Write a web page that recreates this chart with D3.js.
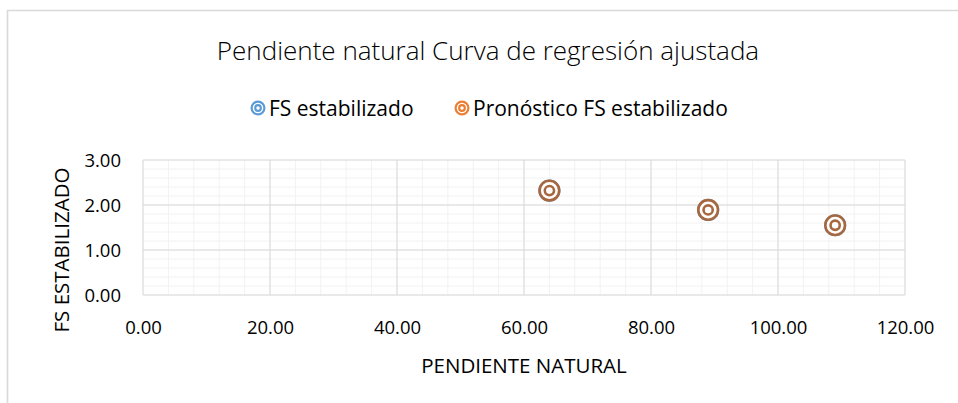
<!DOCTYPE html>
<html>
<head>
<meta charset="utf-8">
<script src="https://cdn.jsdelivr.net/npm/d3@7"></script>
<style>
  html, body { margin: 0; padding: 0; background: #fff; }
  svg text { font-family: "Open Sans", Lato, "Liberation Sans", sans-serif; fill: #000; }
</style>
</head>
<body>
<svg id="chart" width="958" height="403"></svg>
<script>
// Slope (x) and stabilized safety factor (y)
const pendiente = [64.0, 89.0, 109.0];
const fsEstabilizado = [2.32, 1.89, 1.55];
const fsPronostico = [2.32, 1.89, 1.55];
const xTicks = [0, 20, 40, 60, 80, 100, 120];
const yTicks = [0, 1, 2, 3];
const seriesNames = ["FS estabilizado", "Pronóstico FS estabilizado"];
const seriesColors = ["#5B9BD5", "#ED7D31"];
const markerColor = "#A8683F";

const svg = d3.select("#chart");
const margin = { left: 143, right: 53, top: 160, bottom: 108 };
const W = 958, H = 403;
const FONT = "'Open Sans', Lato, sans-serif";

// chart frame
svg.append("path")
  .attr("d", `M7.5,403 V10.5 H958`)
  .attr("fill", "none").attr("stroke", "#d9d9d9").attr("stroke-width", 1.6);

const x = d3.scaleLinear().domain([0, 120]).range([margin.left, W - margin.right]);
const y = d3.scaleLinear().domain([0, 3]).range([H - margin.bottom, margin.top]);

const g = svg.append("g");

// minor gridlines
const xMinor = d3.range(0, 120.001, 4);
const yMinor = d3.range(0, 3.001, 0.2);
g.selectAll(".xminor").data(xMinor).join("line")
  .attr("x1", d => x(d)).attr("x2", d => x(d))
  .attr("y1", y(0)).attr("y2", y(3))
  .attr("stroke", "#f2f2f2").attr("stroke-width", 1);
g.selectAll(".yminor").data(yMinor).join("line")
  .attr("x1", x(0)).attr("x2", x(120))
  .attr("y1", d => y(d)).attr("y2", d => y(d))
  .attr("stroke", "#f2f2f2").attr("stroke-width", 1);

// major gridlines
g.selectAll(".xmajor").data(xTicks).join("line")
  .attr("x1", d => x(d)).attr("x2", d => x(d))
  .attr("y1", y(0)).attr("y2", y(3))
  .attr("stroke", "#d9d9d9").attr("stroke-width", 1);
g.selectAll(".ymajor").data(yTicks).join("line")
  .attr("x1", x(0)).attr("x2", x(120))
  .attr("y1", d => y(d)).attr("y2", d => y(d))
  .attr("stroke", "#d9d9d9").attr("stroke-width", 1);

// axes labels
const xAxis = d3.axisBottom(x).tickValues(xTicks).tickFormat(d3.format(".2f")).tickSize(0).tickPadding(0);
const xa = svg.append("g").attr("transform", `translate(0,${y(0)})`).call(xAxis);
xa.select(".domain").remove();
xa.selectAll("text").attr("font-size", 18.5).attr("dy", null).attr("y", 38.5)
  .style("font-family", FONT).attr("fill", "#000");

const yAxis = d3.axisLeft(y).tickValues(yTicks).tickFormat(d3.format(".2f")).tickSize(0).tickPadding(0);
const ya = svg.append("g").attr("transform", `translate(${x(0) - 22},0)`).call(yAxis);
ya.select(".domain").remove();
ya.selectAll("text").attr("font-size", 18.5).attr("dy", "0.36em").attr("x", 0)
  .style("font-family", FONT).attr("fill", "#000");

// axis titles
svg.append("text").attr("x", 524).attr("y", 373).attr("text-anchor", "middle")
  .attr("font-size", 20.5).text("PENDIENTE NATURAL");
svg.append("text").attr("transform", `translate(69,250) rotate(-90)`)
  .attr("text-anchor", "middle").attr("font-size", 20.5).text("FS ESTABILIZADO");

// title
svg.append("text").attr("x", 488).attr("y", 60).attr("text-anchor", "middle")
  .attr("font-size", 26).attr("font-weight", 300).attr("fill", "#404040")
  .text("Pendiente natural Curva de regresión ajustada");

// marker drawing: double ring
function ringMarker(sel, color, r1, r2, sw) {
  sel.append("circle").attr("r", r1).attr("fill", "#fff").attr("stroke", color).attr("stroke-width", sw);
  sel.append("circle").attr("r", r2).attr("fill", "none").attr("stroke", color).attr("stroke-width", sw);
}

// legend
const legendItems = [
  { name: seriesNames[0], color: seriesColors[0], mx: 258, tx: 269 },
  { name: seriesNames[1], color: seriesColors[1], mx: 462, tx: 473 }
];
legendItems.forEach(it => {
  const m = svg.append("g").attr("transform", `translate(${it.mx},108)`);
  ringMarker(m, it.color, 6.4, 2.8, 2.2);
  svg.append("text").attr("x", it.tx).attr("y", 115.5).attr("font-size", 21).text(it.name);
});

// data points: the observed series lies beneath the forecast one
const pts1 = pendiente.map((p, i) => [p, fsEstabilizado[i]]);
const pts2 = pendiente.map((p, i) => [p, fsPronostico[i]]);
svg.append("g").selectAll("g").data(pts1).join("g")
  .attr("transform", d => `translate(${x(d[0])},${y(d[1])})`)
  .each(function () { ringMarker(d3.select(this), seriesColors[0], 9.8, 4.6, 2.6); });
svg.append("g").selectAll("g").data(pts2).join("g")
  .attr("transform", d => `translate(${x(d[0])},${y(d[1])})`)
  .each(function () { ringMarker(d3.select(this), markerColor, 9.8, 4.6, 2.6); });
</script>
</body>
</html>
